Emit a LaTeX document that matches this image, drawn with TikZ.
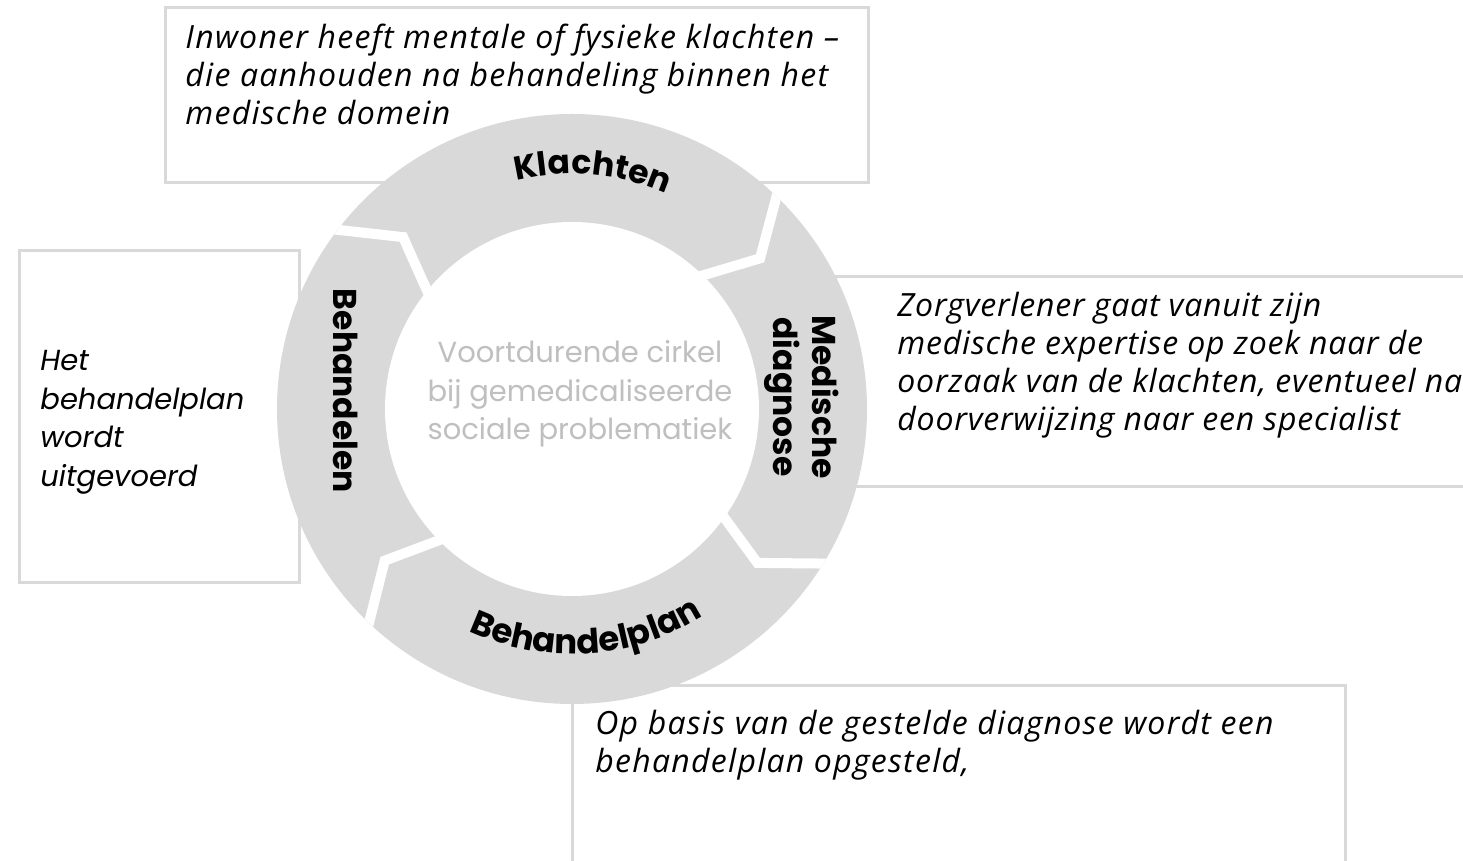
\documentclass[tikz,border=0pt]{standalone}
\usepackage{fontspec}
\setmainfont{Open Sans}
\newfontfamily\boxfont{Open Sans}[LetterSpace=4]
\newfontfamily\boxfontnarrow{Open Sans}[LetterSpace=2.5]
\newfontfamily\labfont{Poppins}
\usetikzlibrary{decorations.text,calc}
\definecolor{ringgray}{HTML}{D9D9D9}
\definecolor{framegray}{HTML}{D9D9D9}
\definecolor{softgray}{HTML}{BFBFBF}
\begin{document}
\begin{tikzpicture}[x=0.5pt,y=0.5pt,
  framebox/.style={draw=framegray,line width=1.5pt},
  desc/.style={anchor=north west,inner sep=0pt,align=left,font=\boxfont\itshape\fontsize{16}{19}\selectfont},
  rdesc/.style={desc,font=\boxfontnarrow\itshape\fontsize{16}{19}\selectfont},
  leftdesc/.style={anchor=north west,inner sep=0pt,align=left,font=\labfont\itshape\fontsize{14.5}{19.25}\selectfont},
  ringlabel/.style={inner sep=0pt,align=center,font=\labfont\bfseries\fontsize{16.5}{19.5}\selectfont},
  gapline/.style={draw=white,line width=5pt,line join=miter}]
\useasboundingbox (0,0) rectangle (1463,861);
\clip (0,0) rectangle (1463,861);
\fill[white] (0,0) rectangle (1463,861);
% description boxes
\draw[framebox] (165,853) rectangle (868,678);
\draw[framebox] (19,610) rectangle (299,278);
\draw[framebox] (835,584) rectangle (1480,374);
\draw[framebox] (572,175) rectangle (1345,-20);
\node[desc] (tTop) at (185,837) {Inwoner heeft mentale of fysieke klachten –\\die aanhouden na behandeling binnen het\\medische domein};
\node[rdesc] (tRight) at (897,569) {Zorgverlener gaat vanuit zijn\\medische expertise op zoek naar de\\oorzaak van de klachten, eventueel na\\doorverwijzing naar een specialist};
\node[desc] (tBottom) at (595,151) {Op basis van de gestelde diagnose wordt een\\behandelplan opgesteld,};
\node[leftdesc] (tLeft) at (40,511) {Het\\behandelplan\\wordt\\uitgevoerd};
% ring
\coordinate (C) at (572,452);
\fill[ringgray] (C) circle (295);
\fill[white] (C) circle (187);
\begin{scope}
  \clip (C) circle (295);
  \foreach \o/\k/\i [count=\n] in {142.6/134.5/140.8, 46.1/38.7/45.6, -31.6/-39.7/-35.5, -133.5/-141/-135.4}{
    \coordinate (go\n) at ($(C)+(\o:295)$);
    \coordinate (gk\n) at ($(C)+(\k:241)$);
    \coordinate (gi\n) at ($(C)+(\i:187)$);
    \draw[gapline] ($(gk\n)!1.3!(go\n)$) -- (gk\n) -- ($(gk\n)!1.3!(gi\n)$);
  }
\end{scope}
% ring labels
\path[decorate,decoration={text along path,text align=center,
  text={|\labfont\bfseries\fontsize{16.5}{18}\selectfont|Klachten}}]
  ($(C)+(125:235)$) arc[start angle=125,end angle=45,radius=235];
\path[decorate,decoration={text along path,text align=center,
  text={|\labfont\bfseries\fontsize{17}{18}\selectfont|Behandelplan}}]
  ($(C)+(-130:245)$) arc[start angle=-130,end angle=-42.6,radius=245];
\node[ringlabel,rotate=-90] (lMed) at (802,464) {Medische\\diagnose};
\node[ringlabel,rotate=-90] (lBeh) at (346,470) {Behandelen};
\node[inner sep=0pt,align=center,text=softgray,font=\labfont\fontsize{14.5}{19.25}\selectfont] (center) at (580,467) {Voortdurende cirkel\\bij gemedicaliseerde\\sociale problematiek};
\end{tikzpicture}
\end{document}
